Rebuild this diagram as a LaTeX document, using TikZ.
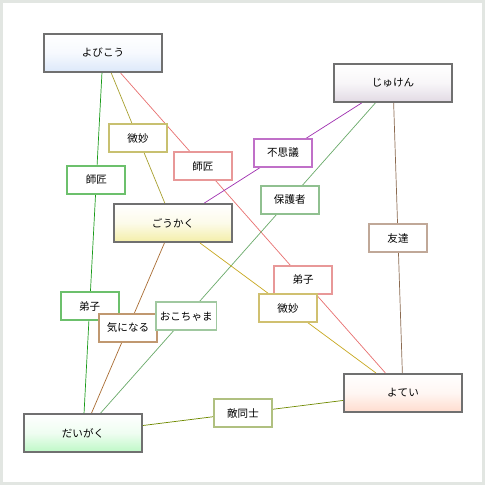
\documentclass[tikz,border=0pt]{standalone}
\usepackage{fontspec}
\setmainfont{Noto Sans CJK JP}
\usepackage{tikz}
\usetikzlibrary{calc}

\definecolor{framegray}{HTML}{E2E6E2}
\definecolor{boxgray}{HTML}{707070}
\definecolor{yobiblue}{HTML}{DCE8FA}
\definecolor{jukenlav}{HTML}{E2DAE4}
\definecolor{goukakuyel}{HTML}{F4EEA8}
\definecolor{daigakugrn}{HTML}{BEF8C6}
\definecolor{yoteipeach}{HTML}{FFDCCE}
% line colours
\definecolor{lgreen}{HTML}{199A19}
\definecolor{lolive}{HTML}{A8A030}
\definecolor{lred}{HTML}{E87070}
\definecolor{lpurple}{HTML}{A030B0}
\definecolor{lsage}{HTML}{6AAA6A}
\definecolor{ltan}{HTML}{8B6A50}
\definecolor{lbrown}{HTML}{A86A30}
\definecolor{lyellow}{HTML}{C8A820}
\definecolor{lmoss}{HTML}{708A00}
% label border colours
\definecolor{tolive}{HTML}{C8C070}
\definecolor{tred}{HTML}{E89898}
\definecolor{tgreen}{HTML}{6CC06C}
\definecolor{tpurple}{HTML}{C070C8}
\definecolor{tsage}{HTML}{90C090}
\definecolor{ttan}{HTML}{C0A898}
\definecolor{tbrown}{HTML}{C09870}
\definecolor{tmint}{HTML}{A0C8A0}
\definecolor{tyellow}{HTML}{D0C070}
\definecolor{tmoss}{HTML}{B0C080}

\begin{document}
\begin{tikzpicture}[
    x=0.03cm, y=-0.03cm,
    topic/.style={draw=boxgray, line width=1.7pt, minimum width=3.54cm, minimum height=1.14cm,
        top color=white, bottom color=#1, middle color=white!75!#1, font=\fontsize{9}{10}\selectfont},
    tag/.style={draw=#1, line width=1.7pt, fill=white, minimum width=1.74cm, minimum height=0.84cm,
        font=\fontsize{9}{10}\selectfont},
    rel/.style={draw=#1, line width=0.6pt}
]

% Frame
\fill[framegray] (0,0) rectangle (485,485);
\fill[white] (3,3) rectangle (482,482);

% Topics
\node[topic=yobiblue] (yobikou) at (103,53) {よびこう};
\node[topic=jukenlav] (juken) at (393,83) {じゅけん};
\node[topic=goukakuyel] (goukaku) at (173,223) {ごうかく};
\node[topic=daigakugrn] (daigaku) at (83,433) {だいがく};
\node[topic=yoteipeach] (yotei) at (403,393) {よてい};

% Relations
\draw[rel=lgreen] (yobikou) -- (daigaku);
\draw[rel=lolive] (yobikou) -- (goukaku);
\draw[rel=lred] (yobikou) -- (yotei);
\draw[rel=lpurple] (juken) -- (goukaku);
\draw[rel=lsage] (juken) -- (daigaku);
\draw[rel=ltan] (juken) -- (yotei);
\draw[rel=lbrown] (goukaku) -- (daigaku);
\draw[rel=lyellow] (goukaku) -- (yotei);
\draw[rel=lmoss] (daigaku) -- (yotei);

% Labels
\node[tag=tolive] (bimyou1) at ($(yobikou)!0.5!(goukaku)$) {微妙};
\node[tag=tred] (shishou1) at ($(yobikou)!0.333!(yotei)$) {師匠};
\node[tag=tgreen] (shishou2) at ($(yobikou)!0.333!(daigaku)$) {師匠};
\node[tag=tpurple] (fushigi) at ($(juken)!0.5!(goukaku)$) {不思議};
\node[tag=tsage] (hogosha) at ($(juken)!0.333!(daigaku)$) {保護者};
\node[tag=ttan] (tomodachi) at ($(juken)!0.5!(yotei)$) {友達};
\node[tag=tgreen] (deshi1) at ($(yobikou)!0.667!(daigaku)$) {弟子};
\node[tag=tbrown] (kininaru) at ($(goukaku)!0.5!(daigaku)$) {気になる};
\node[tag=tmint] (okochama) at ($(juken)!0.667!(daigaku)$) {おこちゃま};
\node[tag=tred] (deshi2) at ($(yobikou)!0.667!(yotei)$) {弟子};
\node[tag=tyellow] (bimyou2) at ($(goukaku)!0.5!(yotei)$) {微妙};
\node[tag=tmoss] (tekidoushi) at ($(daigaku)!0.5!(yotei)$) {敵同士};

\end{tikzpicture}
\end{document}
